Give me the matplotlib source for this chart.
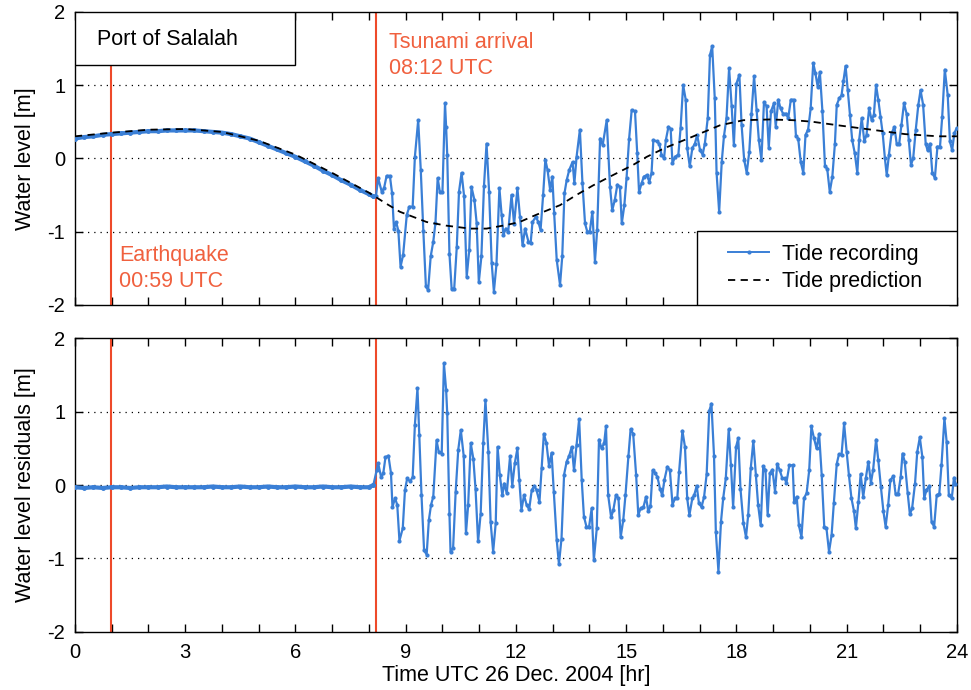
import matplotlib
matplotlib.use("Agg")
import matplotlib.pyplot as plt
from matplotlib.patches import Rectangle
from matplotlib.lines import Line2D

plt.rcParams['font.family'] = ['Liberation Sans', 'DejaVu Sans']
plt.rcParams['axes.unicode_minus'] = False

# ---------------- data (hours UTC, metres) ----------------
recording_calm = [
    (0.00, 0.27), (0.25, 0.29), (0.50, 0.30), (0.75, 0.32), (1.00, 0.33), (1.25, 0.34),
    (1.50, 0.35), (1.75, 0.36), (2.00, 0.37), (2.25, 0.37), (2.50, 0.38), (2.75, 0.38),
    (3.00, 0.38), (3.25, 0.38), (3.50, 0.37), (3.75, 0.36), (4.00, 0.35), (4.25, 0.33),
    (4.50, 0.30), (4.75, 0.27), (5.00, 0.22), (5.25, 0.17), (5.50, 0.12), (5.75, 0.07),
    (6.00, 0.02), (6.25, -0.04), (6.50, -0.10), (6.75, -0.17), (7.00, -0.23), (7.25, -0.30),
    (7.50, -0.36), (7.75, -0.43), (8.00, -0.49), (8.12, -0.52)]

recording_tsunami = [
    (8.12, -0.52), (8.19, -0.52), (8.25, -0.27), (8.35, -0.46), (8.41, -0.41), (8.48, -0.24), (8.57, -0.24),
    (8.63, -0.48), (8.68, -0.96), (8.74, -0.87), (8.80, -0.99), (8.86, -1.48), (8.93, -1.32),
    (9.03, -0.77), (9.10, -0.66), (9.19, -0.66), (9.25, 0.02), (9.34, 0.52), (9.41, -0.16),
    (9.48, -0.99), (9.55, -1.75), (9.61, -1.80), (9.68, -1.34), (9.75, -1.14), (9.81, -0.88),
    (9.87, -0.27), (9.93, -0.46), (10.00, -0.46), (10.07, 0.75), (10.10, 0.43), (10.13, 0.05),
    (10.19, -1.30), (10.25, -1.78), (10.32, -1.78), (10.39, -1.21), (10.45, -0.46), (10.52, -0.20),
    (10.59, -0.52), (10.66, -1.62), (10.73, -1.25), (10.79, -0.39), (10.87, -0.57), (10.93, -0.88),
    (10.99, -1.69), (11.06, -1.34), (11.13, -0.38), (11.20, 0.20), (11.27, -0.46), (11.34, -1.43),
    (11.40, -1.82), (11.47, -1.45), (11.55, -0.41), (11.61, -0.77), (11.66, -1.05), (11.72, -0.96),
    (11.79, -1.00), (11.88, -0.50), (11.95, -0.90), (12.04, -0.41), (12.11, -0.80), (12.18, -1.19),
    (12.25, -0.96), (12.34, -1.14), (12.40, -1.16), (12.45, -0.87), (12.54, -0.80), (12.61, -0.87),
    (12.67, -0.98), (12.74, -0.50), (12.80, -0.02), (12.86, -0.16), (12.93, -0.43), (12.99, -0.25),
    (13.04, -0.75), (13.11, -1.39), (13.20, -1.73), (13.26, -1.34), (13.32, -0.48), (13.38, -0.30),
    (13.45, -0.16), (13.54, -0.05), (13.59, -0.34), (13.65, 0.02), (13.74, 0.39), (13.81, -0.34),
    (13.88, -0.89), (13.94, -1.00), (14.01, -1.00), (14.08, -0.73), (14.15, -1.41), (14.21, -0.98),
    (14.29, 0.27), (14.36, 0.18), (14.47, 0.52), (14.56, -0.39), (14.62, -0.71), (14.69, -0.57),
    (14.76, -0.36), (14.83, -0.39), (14.88, -0.89), (14.95, -0.64), (15.01, -0.27), (15.08, 0.27),
    (15.15, 0.66), (15.24, 0.64), (15.30, 0.07), (15.35, -0.46), (15.42, -0.34), (15.48, -0.25),
    (15.56, -0.23), (15.63, -0.32), (15.69, -0.20), (15.74, 0.25), (15.83, 0.23), (15.90, 0.20),
    (15.96, 0.05), (16.03, 0.00), (16.08, 0.25), (16.15, 0.43), (16.21, 0.40), (16.26, -0.07),
    (16.33, 0.02), (16.42, 0.05), (16.48, 0.41), (16.55, 1.00), (16.62, 0.80), (16.66, 0.14),
    (16.73, -0.11), (16.80, 0.14), (16.87, 0.20), (16.93, 0.32), (17.01, 0.11), (17.08, 0.05),
    (17.14, 0.20), (17.22, 0.55), (17.28, 1.41), (17.34, 1.53), (17.41, 0.82), (17.46, -0.20),
    (17.53, -0.73), (17.60, -0.05), (17.66, 0.30), (17.73, 0.55), (17.80, 1.23), (17.87, 0.71),
    (17.93, 0.18), (18.00, 1.02), (18.08, 1.14), (18.14, 0.46), (18.21, -0.02), (18.28, -0.20),
    (18.35, 0.09), (18.41, 0.61), (18.48, 1.12), (18.55, 0.66), (18.61, 0.25), (18.68, -0.02),
    (18.75, 0.77), (18.82, 0.71), (18.88, 0.14), (18.94, 0.64), (19.02, 0.75), (19.07, 0.43),
    (19.14, 0.80), (19.20, 0.68), (19.27, 0.61), (19.35, 0.61), (19.41, 0.55), (19.48, 0.80),
    (19.56, 0.80), (19.62, 0.30), (19.68, 0.27), (19.75, -0.05), (19.82, -0.20), (19.88, 0.32),
    (19.95, 0.39), (20.02, 0.68), (20.09, 1.30), (20.15, 1.16), (20.21, 0.98), (20.27, 1.18),
    (20.34, 0.64), (20.41, -0.11), (20.47, -0.14), (20.54, -0.46), (20.61, -0.25), (20.68, 0.20),
    (20.73, 0.73), (20.80, 0.82), (20.86, 0.86), (20.91, 1.05), (20.97, 1.26), (21.03, 0.93),
    (21.09, 0.59), (21.15, 0.25), (21.22, 0.07), (21.29, -0.20), (21.34, 0.25), (21.41, 0.55),
    (21.48, 0.23), (21.54, 0.32), (21.61, 0.68), (21.68, 0.52), (21.74, 0.59), (21.80, 1.00),
    (21.86, 0.80), (21.92, 0.57), (21.98, 0.34), (22.04, 0.00), (22.09, -0.23), (22.15, 0.05),
    (22.22, 0.34), (22.30, 0.43), (22.36, 0.20), (22.43, 0.20), (22.49, 0.45), (22.56, 0.75),
    (22.63, 0.61), (22.69, 0.25), (22.75, -0.09), (22.81, 0.00), (22.88, 0.39), (22.95, 0.73),
    (23.01, 0.93), (23.08, 0.73), (23.15, 0.20), (23.20, 0.11), (23.27, 0.20), (23.33, -0.20),
    (23.40, -0.27), (23.47, 0.16), (23.54, 0.16), (23.60, 0.57), (23.67, 1.21), (23.75, 0.86),
    (23.81, 0.23), (23.87, 0.11), (23.93, 0.34), (23.99, 0.41)]

prediction = [
    (0.0, 0.30), (1.0, 0.35), (2.0, 0.39), (3.0, 0.40), (4.0, 0.36), (5.0, 0.24), (6.0, 0.05),
    (7.0, -0.20), (8.0, -0.47), (8.44, -0.61), (8.84, -0.73), (9.57, -0.87), (10.11, -0.92),
    (10.75, -0.96), (11.20, -0.96), (11.75, -0.91), (12.10, -0.87), (12.56, -0.77), (13.20, -0.64),
    (13.65, -0.50), (14.10, -0.37), (14.56, -0.25), (15.19, -0.09), (15.56, 0.02), (16.05, 0.14),
    (16.83, 0.30), (17.55, 0.45), (18.19, 0.52), (18.91, 0.53), (19.55, 0.52), (20.05, 0.50),
    (20.77, 0.45), (21.68, 0.39), (22.59, 0.33), (23.49, 0.30), (24.0, 0.30)]

residual_calm = [
    (0.00, -0.03), (0.25, -0.04), (0.50, -0.03), (0.75, -0.04), (1.00, -0.03), (1.25, -0.03),
    (1.50, -0.04), (1.75, -0.03), (2.00, -0.03), (2.25, -0.03), (2.50, -0.02), (2.75, -0.03),
    (3.00, -0.03), (3.25, -0.03), (3.50, -0.03), (3.75, -0.02), (4.00, -0.03), (4.25, -0.03),
    (4.50, -0.02), (4.75, -0.03), (5.00, -0.03), (5.25, -0.02), (5.50, -0.03), (5.75, -0.03),
    (6.00, -0.02), (6.25, -0.03), (6.50, -0.03), (6.75, -0.02), (7.00, -0.03), (7.25, -0.03),
    (7.50, -0.02), (7.75, -0.03), (8.00, -0.03), (8.12, 0.00)]

residual_tsunami = [
    (8.12, 0.00), (8.21, 0.20), (8.25, 0.30), (8.33, 0.11), (8.39, 0.16), (8.45, 0.38), (8.53, 0.40),
    (8.60, 0.16), (8.64, -0.30), (8.71, -0.18), (8.77, -0.27), (8.83, -0.76), (8.92, -0.59),
    (8.98, -0.07), (9.04, 0.09), (9.12, 0.05), (9.19, 0.11), (9.25, 0.82), (9.32, 1.32),
    (9.37, 0.68), (9.43, -0.14), (9.50, -0.89), (9.57, -0.95), (9.63, -0.48), (9.69, -0.27),
    (9.75, -0.16), (9.84, 0.61), (9.90, 0.45), (9.98, 0.43), (10.04, 1.66), (10.10, 1.30),
    (10.13, 0.98), (10.19, -0.39), (10.22, -0.91), (10.29, -0.86), (10.36, -0.09), (10.43, 0.48),
    (10.50, 0.75), (10.58, 0.39), (10.64, -0.66), (10.70, -0.27), (10.77, 0.57), (10.84, 0.36),
    (10.90, -0.05), (10.97, -0.77), (11.04, -0.39), (11.11, 0.57), (11.17, 1.16), (11.25, 0.45),
    (11.31, -0.50), (11.38, -0.91), (11.45, -0.52), (11.50, 0.52), (11.56, 0.14), (11.63, -0.14),
    (11.68, 0.02), (11.75, -0.11), (11.84, 0.39), (11.90, -0.01), (11.97, 0.30), (12.04, 0.50),
    (12.09, 0.07), (12.15, -0.34), (12.22, -0.14), (12.29, -0.27), (12.36, -0.33), (12.43, -0.07),
    (12.50, -0.01), (12.56, -0.07), (12.64, -0.23), (12.70, 0.23), (12.76, 0.70), (12.83, 0.57),
    (12.90, 0.26), (12.97, 0.44), (13.03, -0.09), (13.11, -0.75), (13.17, -1.08), (13.24, -0.73),
    (13.31, 0.14), (13.38, 0.32), (13.45, 0.40), (13.52, 0.52), (13.58, 0.20), (13.65, 0.55),
    (13.72, 0.90), (13.79, 0.07), (13.85, -0.43), (13.92, -0.57), (13.99, -0.57), (14.06, -0.32),
    (14.12, -1.02), (14.20, -0.59), (14.26, 0.62), (14.33, 0.50), (14.40, 0.57), (14.45, 0.80),
    (14.51, -0.14), (14.59, -0.44), (14.65, -0.34), (14.72, -0.14), (14.79, -0.18), (14.85, -0.71),
    (14.92, -0.48), (14.98, -0.14), (15.06, 0.39), (15.12, 0.76), (15.19, 0.70), (15.27, 0.14),
    (15.33, -0.41), (15.39, -0.32), (15.47, -0.30), (15.54, -0.16), (15.60, -0.36), (15.66, -0.29),
    (15.72, 0.20), (15.78, 0.17), (15.85, 0.11), (15.92, -0.05), (15.98, -0.14), (16.04, 0.07),
    (16.12, 0.25), (16.19, 0.20), (16.26, -0.27), (16.33, -0.18), (16.39, -0.18), (16.44, 0.18),
    (16.53, 0.74), (16.60, 0.52), (16.66, -0.18), (16.72, -0.41), (16.80, -0.18), (16.85, -0.14),
    (16.92, -0.01), (16.98, -0.25), (17.05, -0.30), (17.12, -0.16), (17.19, 0.15), (17.26, 1.01),
    (17.32, 1.11), (17.39, 0.40), (17.44, -0.64), (17.51, -1.18), (17.58, -0.50), (17.64, -0.18),
    (17.71, 0.09), (17.79, 0.76), (17.85, 0.27), (17.91, -0.30), (17.99, 0.52), (18.05, 0.64),
    (18.11, -0.05), (18.19, -0.52), (18.26, -0.71), (18.32, -0.41), (18.39, 0.23), (18.46, 0.60),
    (18.53, 0.14), (18.59, -0.27), (18.66, -0.55), (18.73, 0.26), (18.79, 0.20), (18.85, -0.41),
    (18.91, 0.16), (18.98, 0.21), (19.05, -0.09), (19.11, 0.29), (19.18, 0.20), (19.25, 0.09),
    (19.31, 0.09), (19.36, 0.03), (19.44, 0.27), (19.53, 0.27), (19.57, -0.23), (19.64, -0.16),
    (19.70, -0.55), (19.77, -0.71), (19.84, -0.18), (19.91, -0.11), (19.98, 0.20), (20.04, 0.80),
    (20.11, 0.64), (20.18, 0.50), (20.25, 0.70), (20.32, 0.14), (20.39, -0.57), (20.45, -0.59),
    (20.52, -0.91), (20.59, -0.68), (20.65, -0.25), (20.73, 0.29), (20.79, 0.42), (20.86, 0.41),
    (20.93, 0.84), (21.00, 0.45), (21.06, 0.14), (21.13, -0.18), (21.20, -0.36), (21.25, -0.59),
    (21.32, -0.23), (21.38, 0.15), (21.45, -0.16), (21.52, 0.09), (21.59, 0.32), (21.66, 0.03),
    (21.72, 0.21), (21.80, 0.62), (21.86, 0.34), (21.93, -0.02), (22.00, -0.36), (22.06, -0.57),
    (22.13, -0.27), (22.19, 0.07), (22.27, 0.12), (22.33, -0.12), (22.40, -0.12), (22.47, 0.11),
    (22.52, 0.43), (22.58, 0.32), (22.66, -0.11), (22.72, -0.40), (22.78, -0.32), (22.86, 0.02),
    (22.92, 0.45), (22.99, 0.65), (23.06, 0.38), (23.11, -0.18), (23.17, -0.07), (23.25, -0.01),
    (23.31, -0.50), (23.38, -0.57), (23.45, -0.14), (23.52, -0.12), (23.58, 0.27), (23.66, 0.91),
    (23.72, 0.59), (23.78, -0.14), (23.86, -0.18), (23.92, 0.10), (23.96, 0.02)]

earthquake_time = 59 / 60.0      # 00:59 UTC
tsunami_time = 8 + 12 / 60.0     # 08:12 UTC
x_ticks = [0, 3, 6, 9, 12, 15, 18, 21, 24]
y_ticks = [-2, -1, 0, 1, 2]

BLUE = '#3a7fd6'
RED = '#ee4a2a'
RED_TXT = '#f0603e'

def unzip(pairs):
    return [p[0] for p in pairs], [p[1] for p in pairs]

rc_t, rc_v = unzip(recording_calm)
rt_t, rt_v = unzip(recording_tsunami)
pred_t, pred_v = unzip(prediction)
sc_t, sc_v = unzip(residual_calm)
st_t, st_v = unzip(residual_tsunami)

fig = plt.figure(figsize=(9.71, 6.90), dpi=100)
ax1 = fig.add_axes([0.0772, 0.5583, 0.9083, 0.4246])
ax2 = fig.add_axes([0.0772, 0.0846, 0.9083, 0.4249])

FS = 15.5
TFS = 14.5

for ax in (ax1, ax2):
    ax.set_xlim(0, 24)
    ax.set_ylim(-2, 2)
    ax.set_yticks(y_ticks)
    ax.set_xticks(x_ticks)
    ax.set_xticks(range(0, 25), minor=True)
    ax.tick_params(which='both', direction='in', top=True, right=True, labelsize=TFS,
                   length=6, width=1.0, color='black')
    ax.tick_params(axis='x', which='major', pad=8)
    ax.tick_params(axis='y', which='major', pad=7)
    for s in ax.spines.values():
        s.set_linewidth(1.0)
    for yv in (-1, 0, 1):
        ax.axhline(yv, color='black', linestyle=(0, (1, 4)), linewidth=0.9, zorder=1)

# ---- top panel ----
ax1.axvline(tsunami_time, color=RED, linewidth=1.5, zorder=2)
ax1.plot([earthquake_time, earthquake_time], [-2, 1.27], color=RED, linewidth=1.5, zorder=2)
ax1.plot(rc_t, rc_v, color=BLUE, linewidth=3.0, marker='.', markersize=5, zorder=3)
ax1.plot(rt_t, rt_v, color=BLUE, linewidth=1.6, marker='.', markersize=4, zorder=3)
ax1.plot(pred_t, pred_v, color='black', linestyle=(0, (4, 3)), linewidth=1.3, zorder=4)
ax1.add_patch(Rectangle((0, 1.27), 6.0, 0.73, facecolor='white', edgecolor='black',
                        linewidth=1.0, zorder=5))
ax1.text(0.6, 1.62, 'Port of Salalah', fontsize=FS, va='center', ha='left', zorder=6)
ax1.text(8.55, 1.40, 'Tsunami arrival\n08:12 UTC', color=RED_TXT, fontsize=FS,
         va='center', ha='left', linespacing=1.3)
ax1.text(1.2, -1.50, 'Earthquake\n00:59 UTC', color=RED_TXT, fontsize=FS,
         va='center', ha='left', linespacing=1.3)
ax1.set_ylabel('Water level [m]', fontsize=FS, labelpad=8)
ax1.tick_params(labelbottom=False)

# legend frame (drawn as a box flush with the lower-right corner) and entries
leg_x0, leg_y1 = 0.7052, 0.2517
ax1.add_patch(Rectangle((leg_x0, 0.0), 1.0 - leg_x0, leg_y1, transform=ax1.transAxes,
                        facecolor='white', edgecolor='black', linewidth=1.0, zorder=6))
handles = [Line2D([], [], color=BLUE, linewidth=1.4, marker='.', markersize=4, markevery=[1],
                  label='Tide recording'),
           Line2D([], [], color='black', linestyle=(0, (4, 3)), linewidth=1.3,
                  label='Tide prediction')]
leg = ax1.legend(handles=handles, loc='center', frameon=False, fontsize=FS,
                 bbox_to_anchor=((leg_x0 + 1.0) / 2 - 0.002, leg_y1 / 2),
                 handlelength=1.9, handletextpad=0.6, borderpad=0.0, labelspacing=0.3)
leg.set_zorder(7)

# ---- bottom panel ----
ax2.axvline(tsunami_time, color=RED, linewidth=1.5, zorder=2)
ax2.axvline(earthquake_time, color=RED, linewidth=1.5, zorder=2)
ax2.plot(sc_t, sc_v, color=BLUE, linewidth=3.0, marker='.', markersize=5, zorder=3)
ax2.plot(st_t, st_v, color=BLUE, linewidth=1.6, marker='.', markersize=4, zorder=3)
ax2.set_ylabel('Water level residuals [m]', fontsize=FS, labelpad=8)
ax2.set_xlabel('Time UTC 26 Dec. 2004 [hr]', fontsize=FS, labelpad=2)

fig.savefig('out.png', dpi=100)
